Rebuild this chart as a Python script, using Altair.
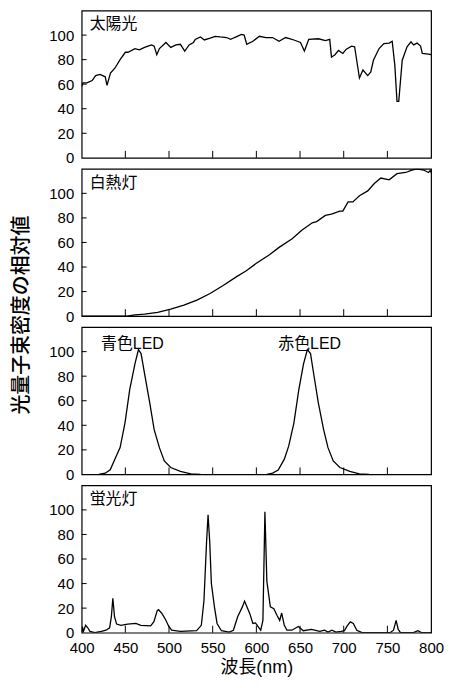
import altair as alt
import pandas as pd

# ---------------- data ----------------
sun_nm = [400, 401.5, 406, 412, 416, 421, 427, 429, 433, 438, 444, 450, 453, 461, 466, 472, 480, 483,
          486, 489, 496.5, 502, 508, 513, 518, 523, 528, 530, 536, 540.5, 547, 553, 558.5, 566, 570.5,
          575, 583, 586, 589, 596, 603.5, 611, 618.5, 626, 633.5, 643, 650.5, 655, 660, 671, 679, 684,
          686, 690, 694, 699, 703, 709, 712.5, 718, 722, 727.5, 731, 734, 740.5, 746, 752, 755.5, 758.5,
          761, 763, 767, 772.5, 777, 780, 784, 788, 790, 797, 800]
sun_val = [58, 61, 61, 63, 67, 68, 66, 59, 69, 73, 80, 86, 86, 89, 88, 90, 92, 91,
           84, 89, 94, 90, 92, 92.5, 87, 92, 94, 96.5, 98.5, 96, 97.5, 99, 98.5, 98, 96.5,
           98, 100.5, 100, 92.5, 95, 99, 98, 98, 95, 98, 96, 94, 87, 96.5, 97, 95.5, 96.5,
           82, 84, 87.5, 85, 88.5, 91, 90.5, 65, 71.5, 67, 70, 79.5, 89, 93, 93.5, 95, 75.5,
           46, 46, 79.5, 90.5, 94.5, 92, 93.5, 91, 85, 84.5, 84]

inc_nm = [400, 452, 461, 472, 487, 502, 517, 532, 547, 562, 577, 588.5, 600, 615, 626, 641, 652, 664,
          669, 679, 686, 695.5, 699, 705, 710.5, 718, 727.5, 735, 742.5, 752, 761, 771, 778, 784,
          791.5, 797, 799, 800]
inc_val = [0, 0, 1, 1.6, 3, 5.7, 9, 13, 18.4, 25, 32, 37, 43, 50, 56, 63, 70, 76,
           77, 82, 83, 85.5, 85.5, 93, 93, 98, 102, 108, 112.5, 111, 116, 117, 119, 120,
           119, 117, 118.5, 117]

blue_nm = [419.5, 427, 432.7, 438, 444, 449.6, 455, 461, 465, 468, 472, 478, 483, 489, 494.6, 502, 513, 525, 536]
blue_val = [0, 1, 3.8, 12.4, 21.8, 42, 69, 90, 101.6, 98.4, 82, 58, 36.5, 21.8, 11, 5.6, 2.4, 0.5, 0]
red_nm = [612, 618.6, 625, 632, 637, 643, 648.6, 654, 658.4, 662, 665.6, 671, 677, 682, 688, 695.6, 707, 718, 729]
red_val = [0, 1, 3.5, 12.4, 23, 42, 69, 90, 101.6, 98.4, 82, 58, 36.5, 21.8, 11, 5.6, 2.4, 0.5, 0]

fl_nm = [400, 400.8, 402, 404.5, 407, 409.5, 415, 422.5, 428, 432, 434, 435.7, 437.6, 440, 445, 452.6,
         462, 467.7, 479, 482.7, 486.5, 488, 492, 496, 499.6, 503, 513, 531.6, 537, 540, 543, 544.7,
         546.6, 548.5, 552, 555, 560, 569, 573.7, 578.6, 584, 586.5, 588.7, 592.5, 596, 599, 602, 605,
         607.5, 609.8, 612, 616, 620, 623.7, 626.7, 629, 632, 635, 640.6, 648, 653.8, 663, 672.6, 678,
         682, 686.5, 691, 697, 700.8, 703.8, 707.5, 711, 715, 721, 753, 757, 760, 762.4, 765, 779.7,
         785, 789, 800]
fl_val = [0, 5, 1, 6, 4, 1, 0, 1, 2, 4, 13, 28, 13, 7, 6, 7,
          7.5, 6, 5.6, 9, 18, 18.7, 15.5, 10.7, 5.3, 2, 1, 1.6, 6, 26, 74, 96,
          74, 40, 21, 7.5, 1.6, 0.5, 2, 13, 21, 25.7, 22, 15.5, 7.5, 8, 5, 2,
          10, 98.4, 42, 21, 19.5, 14, 10, 16, 6, 2, 2, 5, 1.6, 2.7, 1, 2,
          0.5, 2, 0.5, 1, 1.6, 5.3, 8.8, 7.5, 2, 0, 0, 2, 10, 2.7, 0, 0,
          1.6, 0, 0]

x_ticks = [450, 500, 550, 600, 650, 700, 750]
x_labels = [400, 450, 500, 550, 600, 650, 700, 750, 800]
y_ticks = [20, 40, 60, 80, 100]
y_labels = [0, 20, 40, 60, 80, 100]

panel_names = ["太陽光", "白熱灯", "", "蛍光灯"]
led_names = ["青色LED", "赤色LED"]
y_title = "光量子束密度の相対値"
x_title = "波長(nm)"

W, H = 351, 148
LATIN = "Liberation Sans, Noto Sans CJK JP"

xscale = alt.Scale(domain=[400, 800], nice=False, zero=False)
yscale = alt.Scale(domain=[0, 120], nice=False)


def panel(df, label, bottom=False, extra=None):
    if bottom:
        xax = alt.Axis(values=x_labels, format="d", ticks=False, domain=False, grid=False,
                       labelFontSize=15, labelFont="Liberation Sans", labelColor="black",
                       labelPadding=8, title=x_title, titleFont=LATIN, titleFontSize=18,
                       titleFontWeight="normal", titleColor="black", titlePadding=3,
                       labelOverlap=False, labelFlush=False)
    else:
        xax = None
    yax = alt.Axis(values=y_labels, ticks=False, domain=False, grid=False, labelFontSize=15,
                   labelFont="Liberation Sans", labelColor="black", labelPadding=8, title=None,
                   labelOverlap=False, labelFlush=False)
    line = alt.Chart(df).mark_line(color="black", strokeWidth=1.3, clip=True).encode(
        x=alt.X("nm:Q", scale=xscale, axis=xax),
        y=alt.Y("v:Q", scale=yscale, axis=yax),
        detail="s:N",
    )
    xt = alt.Chart(pd.DataFrame({"t": x_ticks})).mark_rule(color="black", strokeWidth=1).encode(
        x=alt.X("t:Q", scale=xscale, axis=xax), y=alt.value(H), y2=alt.value(H - 7))
    yt = alt.Chart(pd.DataFrame({"t": y_ticks})).mark_rule(color="black", strokeWidth=1).encode(
        y=alt.Y("t:Q", scale=yscale, axis=yax), x=alt.value(0), x2=alt.value(5))
    layers = [line, xt, yt]
    if label:
        layers.append(alt.Chart(pd.DataFrame({"a": [label]})).mark_text(
            align="left", baseline="middle", fontSize=16, font=LATIN, color="black").encode(
            x=alt.value(8), y=alt.value(14), text="a:N"))
    if extra is not None:
        layers.extend(extra)
    return alt.layer(*layers).properties(width=W, height=H)


sun_df = pd.DataFrame({"nm": sun_nm, "v": sun_val, "s": "sun"})
inc_df = pd.DataFrame({"nm": inc_nm, "v": inc_val, "s": "inc"})
led_df = pd.concat([pd.DataFrame({"nm": blue_nm, "v": blue_val, "s": "blue"}),
                    pd.DataFrame({"nm": red_nm, "v": red_val, "s": "red"})])
fl_df = pd.DataFrame({"nm": fl_nm, "v": fl_val, "s": "fl"})

ytitle_layer = alt.Chart(pd.DataFrame({"a": [y_title]})).mark_text(
    angle=270, align="center", baseline="middle", fontSize=20, font="Noto Sans CJK JP",
    fontWeight=500, color="black").encode(x=alt.value(-60), y=alt.value(H - 1), text="a:N")

led_text = alt.Chart(pd.DataFrame({"a": led_names, "px": [51, 229]})).mark_text(
    align="center", baseline="middle", fontSize=16, font=LATIN, color="black").encode(
    x=alt.X("px:Q", scale=None), y=alt.value(17), text="a:N")

p1 = panel(sun_df, panel_names[0])
p2 = panel(inc_df, panel_names[1], extra=[ytitle_layer])
p3 = panel(led_df, None, extra=[led_text])
p4 = panel(fl_df, panel_names[3], bottom=True)

chart = alt.vconcat(p1, p2, p3, p4, spacing=11, bounds="flush").properties(
    padding={"left": 3, "top": 0, "right": 0, "bottom": 0}
).configure(background="white").configure_view(stroke="black", strokeWidth=1.2)

chart.save("out.html", embed_options={"renderer": "svg", "actions": False})
